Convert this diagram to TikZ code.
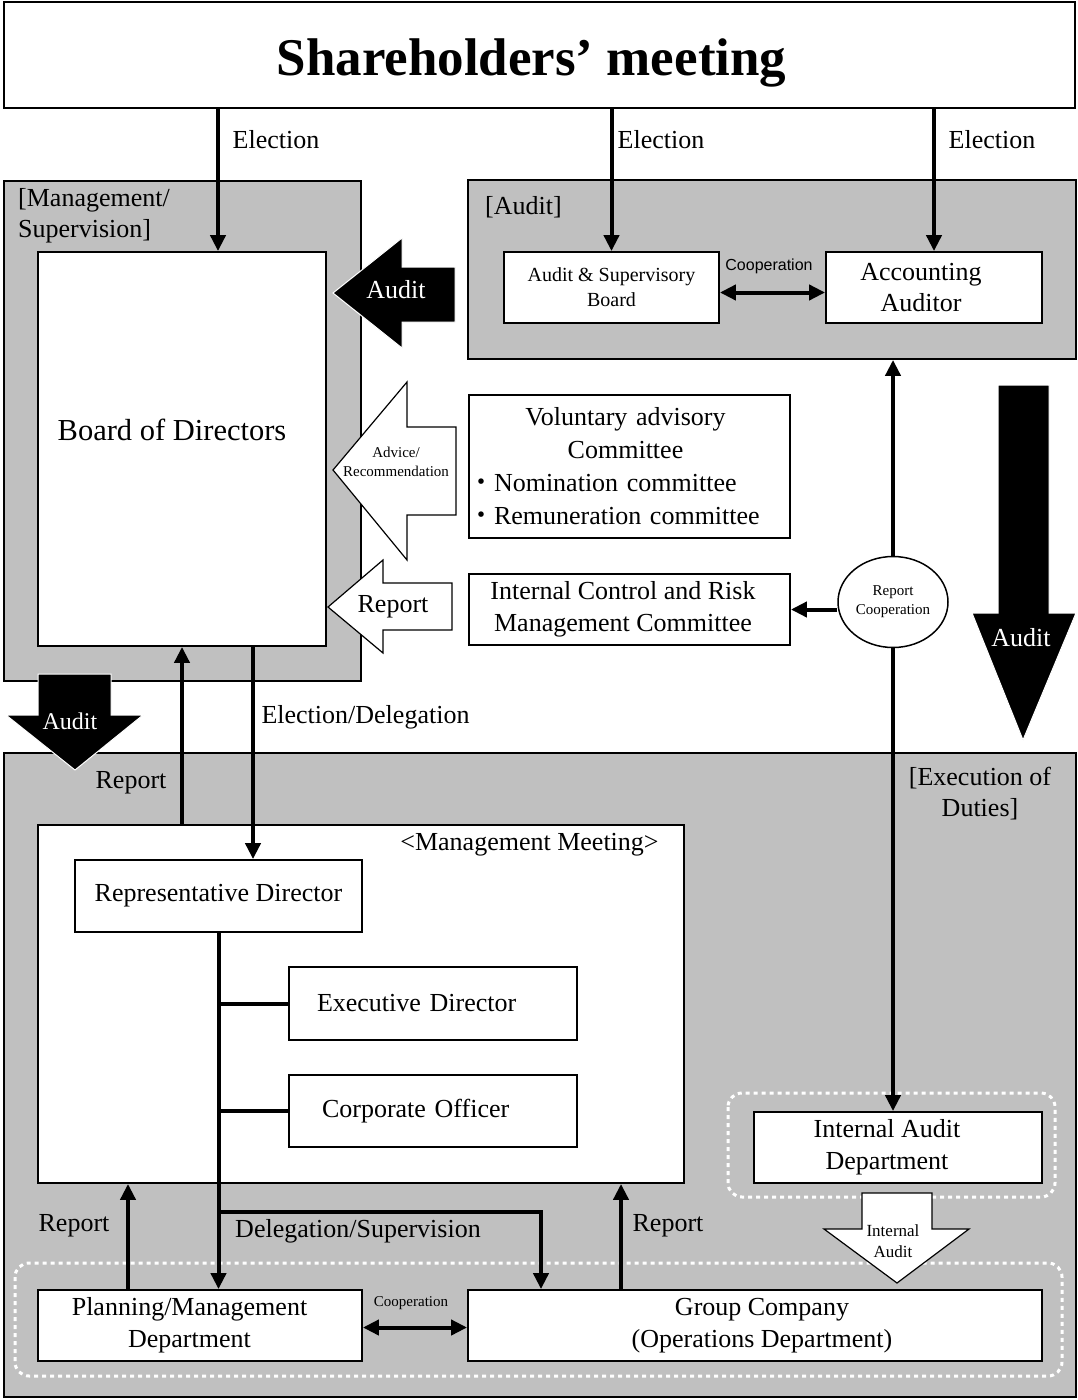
\documentclass[tikz,border=0pt]{standalone}
\usepackage{fontspec}
\setmainfont{Liberation Serif}
\newfontfamily\arialf{Liberation Sans}
\newfontfamily\cjkf{Noto Sans CJK JP}
\usetikzlibrary{arrows.meta,shapes.geometric}
\definecolor{panel}{RGB}{192,192,192}
\newcommand\fsz[2]{\fontsize{#1pt}{#2pt}\selectfont}
\newcommand\sh[1]{\hspace*{#1pt}}
\begin{document}
\begin{tikzpicture}[x=1pt,y=-1pt,
  box/.style={draw=black, line width=1.8pt, fill=white, inner sep=0pt, align=center, font=\fsz{26}{32}},
  panelbox/.style={draw=black, line width=1.8pt, fill=panel, inner sep=0pt},
  arr/.style={line width=4pt, -{Triangle[length=16pt,width=15pt]}},
  darr/.style={line width=4pt, {Triangle[length=16pt,width=15pt]}-{Triangle[length=16pt,width=15pt]}},
  plain/.style={line width=4pt},
  lbl/.style={inner sep=0pt, font=\fsz{26}{31}, align=center},
  bigarrB/.style={fill=black, draw=white, line width=1pt},
  bigarrW/.style={fill=white, draw=black, line width=1.2pt},
  dotgroup/.style={draw=white, line width=3pt, dash pattern=on 4pt off 4pt, rounded corners=14pt}
]
\useasboundingbox (0,0) rectangle (1077,1400);
\fill[white] (0,0) rectangle (1077,1400);

% panels
\node[panelbox, minimum width=357pt, minimum height=500pt] (mgmt) at (182.5,431) {};
\node[panelbox, minimum width=608pt, minimum height=179pt] (aud) at (772,269.5) {};
\node[panelbox, minimum width=1072pt, minimum height=644pt] (exe) at (540,1075) {};

% dotted groups
\draw[dotgroup] (728,1093) rectangle (1055,1197);
\draw[dotgroup] (15,1263) rectangle (1062,1376);

% boxes
\node[box, minimum width=1071pt, minimum height=106pt, text height=52pt, text depth=11pt, font=\bfseries\fsz{53}{60}] (sh) at (539.5,55) {\sh{-16}Shareholders’ meeting};
\node[box, minimum width=288pt, minimum height=394pt] (bod) at (182,449) {};
\node[lbl, font=\fsz{30.5}{35}] (bodl) at (172,430) {Board of Directors};
\node[box, minimum width=215pt, minimum height=71pt, font=\fsz{20}{25}] (asb) at (611.5,287.5) {Audit \& Supervisory\\Board};
\node[box, minimum width=216pt, minimum height=71pt, font=\fsz{26}{31}] (acc) at (934,287.5) {\sh{-26}Accounting\\\sh{-26}Auditor};
\node[box, minimum width=321pt, minimum height=143pt, text width=305pt, align=left, font=\fsz{26}{33}] (vac) at (629.5,466.5)
  {\makebox[\linewidth]{\sh{-8}Voluntary advisory}\\\makebox[\linewidth]{\sh{-8}Committee}\\\sh{-9}{\cjkf ・}Nomination committee\\\sh{-9}{\cjkf ・}Remuneration committee};
\node[box, minimum width=321pt, minimum height=71pt] (icrm) at (629.5,609.5) {\sh{-13}Internal Control and Risk\\\sh{-13}Management Committee};
\node[ellipse, draw=black, line width=1.5pt, fill=white, minimum width=110pt, minimum height=91pt, inner sep=0pt, align=center, font=\fsz{15}{19}] (rc) at (893,602) {Report\\Cooperation};

\node[box, minimum width=646pt, minimum height=358pt] (mm) at (361,1004) {};
\node[lbl] (mml) at (529.5,845) {<Management Meeting>};
\node[box, minimum width=287pt, minimum height=72pt] (rd) at (218.5,896) {Representative Director};
\node[box, minimum width=288pt, minimum height=73pt, text width=232pt, align=left] (ed) at (433,1003.5) {Executive Director};
\node[box, minimum width=288pt, minimum height=72pt, text width=222pt, align=left] (co) at (433,1111) {Corporate Officer};
\node[box, minimum width=324pt, minimum height=71pt] (pm) at (200,1325.5) {\sh{-21}Planning/Management\\\sh{-21}Department};
\node[box, minimum width=574pt, minimum height=71pt] (gc) at (755,1325.5) {\sh{14}Group Company\\\sh{14}(Operations Department)};
\node[box, minimum width=288pt, minimum height=71pt] (iad) at (898,1147.5) {\sh{-22}Internal Audit\\\sh{-22}Department};

% labels
\node[lbl] (el1) at (276,140) {Election};
\node[lbl] (el2) at (661,140) {Election};
\node[lbl] (el3) at (992,140) {Election};
\node[lbl, anchor=north west, align=left] (mgl) at (18,188) {[Management/\\Supervision]};
\node[lbl] (audl) at (523.5,207) {[Audit]};
\node[lbl] (exl) at (980,794) {[Execution of\\Duties]};
\node[lbl, font=\arialf\fsz{16}{19}] (coop1) at (769,266) {Cooperation};
\node[lbl] (edl) at (365.5,717) {Election/Delegation};
\node[lbl] (rp1) at (131,783) {Report};
\node[lbl] (dsl) at (358,1231) {Delegation/Supervision};
\node[lbl] (rp2) at (74,1226) {Report};
\node[lbl] (rp3) at (668,1226) {Report};
\node[lbl, font=\fsz{15}{18}] (coop2) at (411,1303) {Cooperation};

% connectors
\coordinate (e1) at ([xshift=36pt]bod.north);
\draw[arr] (sh.south -| e1) -- (e1);
\draw[arr] (sh.south -| asb.north) -- (asb.north);
\draw[arr] (sh.south -| acc.north) -- (acc.north);
\draw[darr] ([yshift=-5pt]asb.east) -- ([yshift=-5pt]acc.west);
\draw[arr] (mm.north -| bod.south) -- (bod.south);
\coordinate (edx) at (253,0);
\draw[arr] (bod.south -| edx) -- (rd.north -| edx);
\draw[arr] (rc.north) -- (rc.north |- aud.south);
\draw[arr] (rc.south) -- (rc.south |- iad.north);
\draw[arr] (icrm.east -| rc.west) -- (icrm.east);
\draw[arr] (rd.south) -- (rd.south |- pm.north);
\draw[plain] (rd.south |- ed.west) -- (ed.west);
\draw[plain] (rd.south |- co.west) -- (co.west);
\coordinate (ds) at (541,1212);
\draw[arr] (rd.south |- ds) -- (ds) -- (ds |- gc.north);
\coordinate (r1) at (128,0);
\coordinate (r2) at (621,0);
\draw[arr] (pm.north -| r1) -- (mm.south -| r1);
\draw[arr] (gc.north -| r2) -- (mm.south -| r2);
\draw[darr] ([yshift=-2pt]pm.east) -- ([yshift=-2pt]gc.west);

% block arrows
\filldraw[bigarrB] (333,293) -- (402,238) -- (402,267) -- (455,267) -- (455,322) -- (402,322) -- (402,348) -- cycle;
\node[lbl, text=white] (aud1) at (396,290) {Audit};
\filldraw[bigarrW] (333,470) -- (407,382) -- (407,427) -- (456,427) -- (456,515) -- (407,515) -- (407,560) -- cycle;
\node[lbl, font=\fsz{15}{19}] (advl) at (396,462) {Advice/\\Recommendation};
\filldraw[bigarrW] (328,607) -- (383,560) -- (383,583) -- (452,583) -- (452,630) -- (383,630) -- (383,653) -- cycle;
\node[lbl] (rpa) at (393,607) {Report};
\filldraw[bigarrB] (998,385) -- (1049,385) -- (1049,613) -- (1076,613) -- (1023,740) -- (972,613) -- (998,613) -- cycle;
\node[lbl, text=white] (aud2) at (1021,638) {Audit};
\filldraw[bigarrB] (38,674) -- (111,674) -- (111,715) -- (143,715) -- (75,770) -- (6,715) -- (38,715) -- cycle;
\node[lbl, text=white, font=\fsz{24}{28}] (aud3) at (70,721) {Audit};
\filldraw[bigarrW] (862,1193) -- (932,1193) -- (932,1229) -- (969,1229) -- (897,1283) -- (824,1229) -- (862,1229) -- cycle;
\node[lbl, font=\fsz{17}{21}] (ial) at (893,1241) {Internal\\Audit};
\end{tikzpicture}
\end{document}
